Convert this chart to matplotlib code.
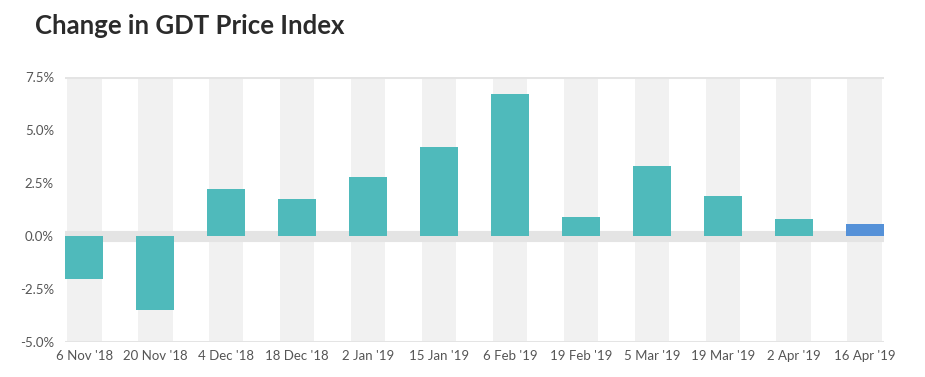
import numpy as np
import matplotlib.pyplot as plt
from matplotlib.ticker import FuncFormatter

plt.rcParams['font.family'] = ['Lato', 'DejaVu Sans']

dates = ["6 Nov '18", "20 Nov '18", "4 Dec '18", "18 Dec '18", "2 Jan '19", "15 Jan '19",
         "6 Feb '19", "19 Feb '19", "5 Mar '19", "19 Mar '19", "2 Apr '19", "16 Apr '19"]
change = [-2.05, -3.5, 2.2, 1.75, 2.8, 4.2, 6.7, 0.9, 3.3, 1.9, 0.8, 0.55]
yticks = [-5.0, -2.5, 0.0, 2.5, 5.0, 7.5]

teal = '#4fbabb'
blue = '#5591d8'
colors = [teal] * (len(change) - 1) + [blue]

fig = plt.figure(figsize=(9.25, 3.77), dpi=100)
ax = fig.add_axes([65 / 925, 35 / 377, 819 / 925, 265 / 377])

x = np.arange(len(dates))
# grey column behind every bar
ax.bar(x, [12.5] * len(x), bottom=-5, width=0.49, color='#f1f1f1', zorder=0)
ax.axhline(0, color='#e4e4e4', lw=8, zorder=1)
ax.axhline(7.5, color='#e4e4e4', lw=2.2, zorder=1)
ax.axhline(-5, color='#e4e4e4', lw=2.2, zorder=1)
ax.bar(x, change, width=0.53, color=colors, zorder=2)

ax.set_xlim(-0.27, len(x) - 1 + 0.27)
ax.set_ylim(-5, 7.5)
ax.set_yticks(yticks)
ax.yaxis.set_major_formatter(FuncFormatter(lambda v, p: '%.1f%%' % v))
ax.set_xticks(x)
ax.set_xticklabels(dates)
ax.tick_params(length=0, labelsize=9.5, labelcolor='#555555')
ax.tick_params(axis='y', pad=8)
ax.tick_params(axis='x', pad=6)
for s in ax.spines.values():
    s.set_visible(False)

fig.text(35 / 925, 1 - 26 / 377, 'Change in GDT Price Index', fontsize=18.5, fontweight='bold',
         color='#2b2b2b', va='center', ha='left')

fig.savefig('out.png', dpi=100, facecolor='white')
